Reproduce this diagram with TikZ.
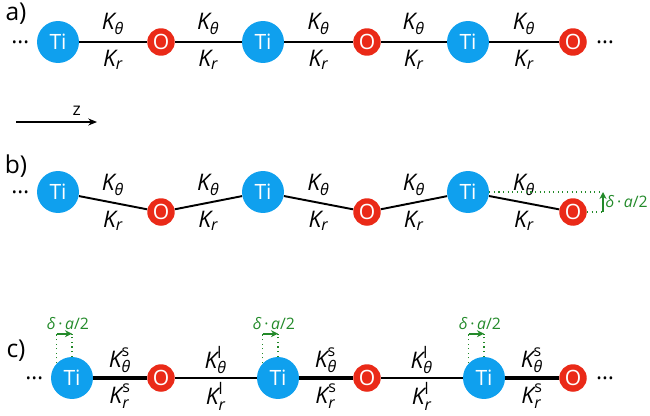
\documentclass[tikz,border=0pt]{standalone}
\usepackage{amsmath}
\usepackage{fontspec}
\setmainfont{Open Sans}
\usepackage{tikz}
\usetikzlibrary{arrows.meta,positioning,calc}

\definecolor{tiblue}{HTML}{0FA0EE}
\definecolor{ored}{HTML}{EA2A18}
\definecolor{dgreen}{HTML}{238A2A}

\newcommand{\Kth}{$\textit{K}_{\textit{θ}}$}
\newcommand{\Kr}{$\textit{K}_{\textit{r}}$}
\newcommand{\Ksth}[1]{$\textit{K}^{\text{#1}}_{\textit{θ}}$}
\newcommand{\Ksr}[1]{$\textit{K}^{\text{#1}}_{\textit{r}}$}
\newcommand{\shiftlbl}{\textit{δ}\,·\,\textit{a}/2}

\begin{document}
\begin{tikzpicture}[x=0.02cm, y=-0.02cm, >=Stealth,
    ti/.style={circle, fill=tiblue, minimum size=0.84cm, inner sep=0pt,
               text=white, font=\fontsize{12}{13}\selectfont},
    ox/.style={circle, fill=ored, minimum size=0.55cm, inner sep=0pt,
               text=white, font=\fontsize{12}{13}\selectfont},
    bond/.style={line width=1.1pt},
    sbond/.style={line width=2.3pt},
    lbond/.style={line width=0.6pt},
    kup/.style={midway, yshift=0.36cm, font=\fontsize{13}{14}\selectfont},
    kdn/.style={midway, yshift=-0.36cm, font=\fontsize{13}{14}\selectfont},
    gdot/.style={dgreen, dotted, line width=0.6pt},
    garrow/.style={->, dgreen, line width=1pt, >={Stealth[length=4pt,width=4pt]}},
    glbl/.style={text=dgreen, font=\fontsize{9}{10}\selectfont, inner sep=1pt},
    dots/.style={font=\fontsize{13}{14}\selectfont, inner sep=0pt},
    tag/.style={font=\fontsize{14}{15}\selectfont, inner sep=1pt}]
  \useasboundingbox (0,0) rectangle (650,416);

  % a) straight chain
  \node[tag] (taga) at (16,14) {a)};
  \node[ti] (Ta1) at (58,42) {Ti};
  \node[ox] (Oa1) at (161,42) {O};
  \node[ti] (Ta2) at (263,42) {Ti};
  \node[ox] (Oa2) at (367,42) {O};
  \node[ti] (Ta3) at (468,42) {Ti};
  \node[ox] (Oa3) at (573,42) {O};
  \node[dots, left=4pt of Ta1] (dotsa1) {\dots};
  \node[dots, right=5pt of Oa3] (dotsa2) {\dots};
  \foreach \a/\b in {Ta1/Oa1, Oa1/Ta2, Ta2/Oa2, Oa2/Ta3, Ta3/Oa3}
    \draw[bond] (\a) -- node[kup] {\Kth} node[kdn] {\Kr} (\b);

  % axis
  \coordinate (z0) at (16,122);
  \coordinate (z1) at (97,122);
  \draw[->, line width=0.6pt, >={Stealth[length=5pt,width=4pt]}] (z0) -- (z1)
    node[pos=0.75, above, font=\fontsize{10}{11}\selectfont] {z};

  % b) buckled chain
  \node[tag] (tagb) at (16,166) {b)};
  \node[ti] (Tb1) at (58,192) {Ti};
  \node[ox] (Ob1) at (161,212) {O};
  \node[ti] (Tb2) at (263,192) {Ti};
  \node[ox] (Ob2) at (367,212) {O};
  \node[ti] (Tb3) at (468,192) {Ti};
  \node[ox] (Ob3) at (573,212) {O};
  \node[dots, left=4pt of Tb1] (dotsb1) {\dots};
  \foreach \a/\b in {Tb1/Ob1, Ob1/Tb2, Tb2/Ob2, Ob2/Tb3, Tb3/Ob3}
    \draw[bond] (\a) -- node[kup] {\Kth} node[kdn] {\Kr} (\b);
  % vertical offset
  \coordinate (gb1) at (603,192);
  \coordinate (gb2) at (603,212);
  \draw[gdot] (Tb3.east) -- (gb1);
  \draw[gdot] (Ob3.east) -- (gb2);
  \draw[garrow] (gb2) -- (gb1) node[midway, right, glbl] {\shiftlbl};

  % c) dimerised chain
  \node[tag] (tagc) at (16,351) {c)};
  \node[ti] (Tc1) at (72,378) {Ti};
  \node[ox] (Oc1) at (161,378) {O};
  \node[ti] (Tc2) at (278,378) {Ti};
  \node[ox] (Oc2) at (367,378) {O};
  \node[ti] (Tc3) at (484,378) {Ti};
  \node[ox] (Oc3) at (573,378) {O};
  \node[dots, left=4pt of Tc1] (dotsc1) {\dots};
  \node[dots, right=5pt of Oc3] (dotsc2) {\dots};
  \foreach \a/\b in {Tc1/Oc1, Tc2/Oc2, Tc3/Oc3}
    \draw[sbond] (\a) -- node[kup] {\Ksth{s}} node[kdn] {\Ksr{s}} (\b);
  \foreach \a/\b in {Oc1/Tc2, Oc2/Tc3}
    \draw[lbond] (\a) -- node[kup] {\Ksth{l}} node[kdn] {\Ksr{l}} (\b);
  % horizontal offsets
  \foreach \i in {1,2,3} {
    \coordinate (gc\i) at ($(Tc\i.north)+(0,0.46cm)$);
    \draw[gdot] (Tc\i.north west) -- (Tc\i.north west |- gc\i);
    \draw[gdot] (Tc\i.north) -- (gc\i);
    \draw[garrow] (Tc\i.north west |- gc\i) -- (gc\i)
      node[midway, above=1pt, xshift=2pt, glbl] {\shiftlbl};
  }
\end{tikzpicture}
\end{document}
